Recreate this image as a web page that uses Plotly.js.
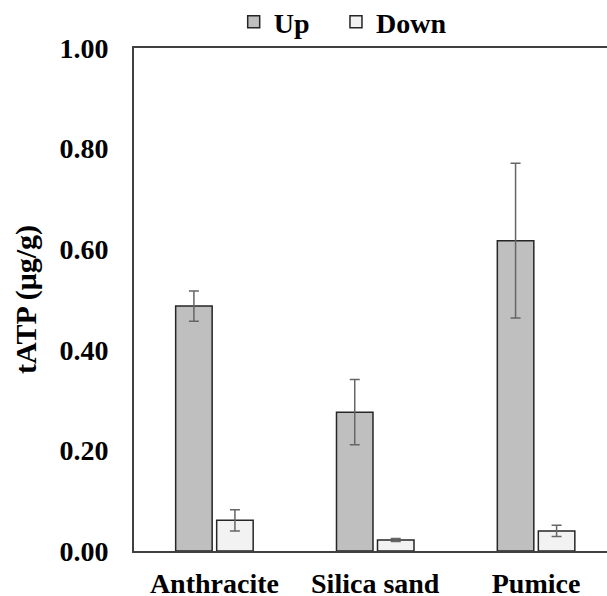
<!DOCTYPE html>
<html>
<head>
<meta charset="utf-8">
<script src="https://cdn.plot.ly/plotly-3.0.1.min.js"></script>
<style>html,body{margin:0;padding:0;background:#fff;overflow:hidden;}</style>
</head>
<body>
<div id="chart" style="width:607px;height:596px;"></div>
<script>
const categories = ["Anthracite", "Silica sand", "Pumice"];
const upValues = [0.487, 0.276, 0.617];
const upErrors = [0.030, 0.065, 0.154];
const downValues = [0.061, 0.022, 0.040];
const downErrors = [0.021, 0.003, 0.011];
const yTickVals = [0, 0.2, 0.4, 0.6, 0.8, 1.0];
const yTickText = ["0.00", "0.20", "0.40", "0.60", "0.80", "1.00"];

const FONT = "Liberation Serif, Times New Roman, serif";

const traces = [
  {
    type: "bar", name: "Up", x: categories, y: upValues, legend: "legend",
    marker: {color: "#bfbfbf", line: {color: "#262626", width: 1.5}},
    error_y: {type: "data", array: upErrors, visible: true, color: "#666666", thickness: 1.5, width: 5}
  },
  {
    type: "bar", name: "Down", x: categories, y: downValues, legend: "legend2",
    marker: {color: "#f2f2f2", line: {color: "#262626", width: 1.5}},
    error_y: {type: "data", array: downErrors, visible: true, color: "#666666", thickness: 1.5, width: 5}
  }
];

const legendStyle = (xpos) => ({
  orientation: "h", xref: "container", yref: "container",
  x: xpos, xanchor: "left", y: 0.963, yanchor: "middle",
  font: {family: FONT, size: 28, color: "#000", weight: "bold"},
  bgcolor: "rgba(0,0,0,0)"
});

const layout = {
  width: 607, height: 596,
  margin: {l: 134, r: 0, t: 48, b: 45},
  paper_bgcolor: "#ffffff", plot_bgcolor: "#ffffff",
  font: {family: FONT, color: "#000000"},
  barmode: "group", bargap: 0.49, bargroupgap: 0.11,
  showlegend: true,
  legend: legendStyle(0.385),
  legend2: legendStyle(0.5535),
  xaxis: {
    type: "category", range: [-0.5, 2.441],
    showline: true, linecolor: "#404040", linewidth: 2, mirror: true,
    showgrid: false, zeroline: false, ticks: "",
    ticklabelstandoff: 6,
    tickfont: {family: FONT, size: 28, color: "#000", weight: "bold"}
  },
  yaxis: {
    range: [0, 1.0], tickvals: yTickVals, ticktext: yTickText,
    showline: true, linecolor: "#404040", linewidth: 2,
    showgrid: false, zeroline: false, ticks: "",
    ticklabelstandoff: 18,
    tickfont: {family: FONT, size: 28, color: "#000", weight: "bold"},
    title: {text: "tATP (μg/g)", standoff: 14, font: {family: FONT, size: 30, color: "#000", weight: "bold"}}
  }
};

Plotly.newPlot("chart", traces, layout, {displayModeBar: false, staticPlot: true});
</script>
</body>
</html>
